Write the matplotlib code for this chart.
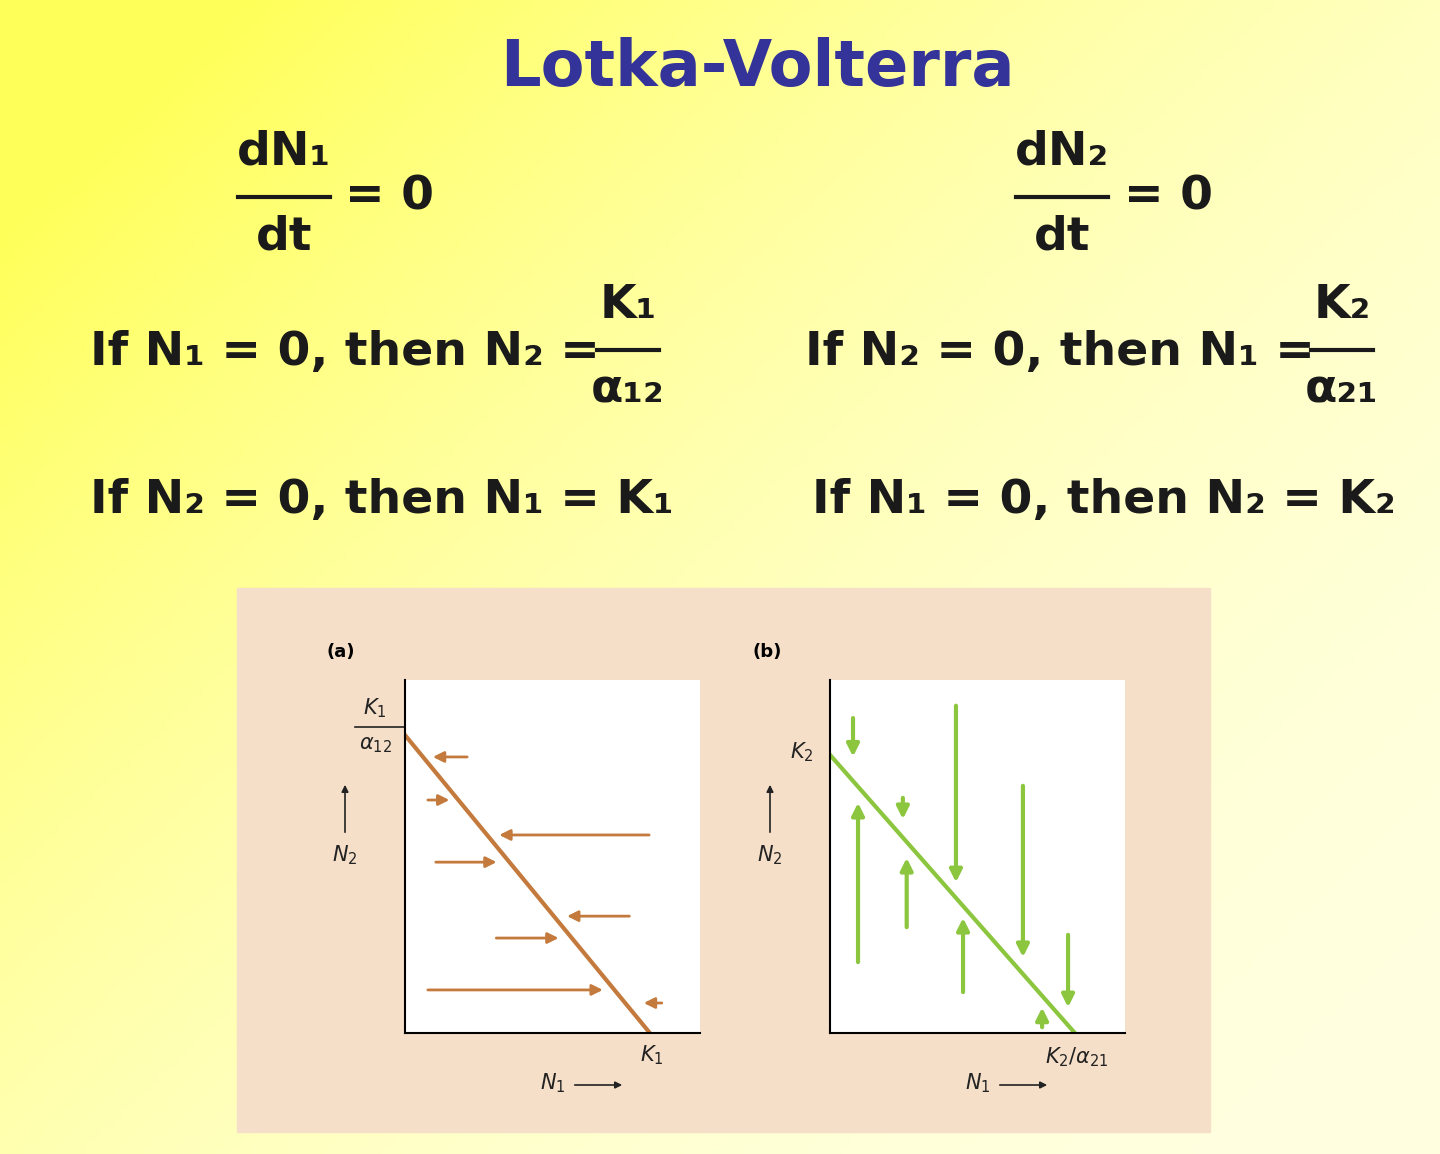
import numpy as np
import matplotlib
matplotlib.use("Agg")
import matplotlib.pyplot as plt
from matplotlib.lines import Line2D

# panel (a): isocline of species 1, horizontal arrows (y, x_start, x_end)
iso_a = [(0.0, 0.844), (0.83, 0.0)]
arrows_a_y = [0.782, 0.66, 0.561, 0.484, 0.331, 0.269, 0.122, 0.085]
arrows_a_x0 = [0.22, 0.068, 0.837, 0.095, 0.77, 0.30, 0.068, 0.88]
arrows_a_x1 = [0.085, 0.16, 0.31, 0.32, 0.54, 0.53, 0.68, 0.80]

# panel (b): isocline of species 2, vertical arrows (x, y_start, y_end)
iso_b = [(0.0, 0.788), (0.83, 0.0)]
arrows_b_x = [0.078, 0.095, 0.247, 0.26, 0.427, 0.451, 0.654, 0.807, 0.719]
arrows_b_y0 = [0.90, 0.193, 0.674, 0.292, 0.935, 0.108, 0.708, 0.286, 0.0085]
arrows_b_y1 = [0.775, 0.66, 0.598, 0.504, 0.419, 0.334, 0.207, 0.065, 0.08]

W, H = 1440, 1154
fig = plt.figure(figsize=(14.4, 11.54), dpi=100)

# gradient background
bg = fig.add_axes([0, 0, 1, 1])
xx, yy = np.meshgrid(np.linspace(0, 1, 200), np.linspace(0, 1, 200))
t = np.clip((1 - xx) * 0.6 + (1 - yy) * 0.5, 0, 1) ** 2
c0 = np.array([1.0, 1.0, 0.88])
c1 = np.array([1.0, 1.0, 0.35])
img = c0 + (c1 - c0) * t[..., None]
bg.imshow(img, extent=[0, W, H, 0], aspect="auto")
bg.set_xlim(0, W)
bg.set_ylim(H, 0)
bg.axis("off")

txt = dict(fontweight="bold", color="#1a1a1a", fontsize=34, family="DejaVu Sans")

def T(x, y, s, ha="left", **kw):
    d = dict(txt)
    d.update(kw)
    bg.text(x, y, s, ha=ha, va="center", **d)

def frac(x, y, num, den, w):
    T(x, y - 45, num, ha="center")
    T(x, y + 40, den, ha="center")
    bg.add_line(Line2D([x - w / 2, x + w / 2], [y, y], color="#1a1a1a", lw=3))

bg.text(757, 68, "Lotka-Volterra", ha="center", va="center", fontsize=46,
        fontweight="bold", color="#333399")

frac(284, 197, "dN₁", "dt", 92)
T(345, 197, "= 0")
frac(1062, 197, "dN₂", "dt", 92)
T(1124, 197, "= 0")

T(90, 352, "If N₁ = 0, then N₂ =")
frac(628, 350, "K₁", "α₁₂", 62)
T(805, 352, "If N₂ = 0, then N₁ =")
frac(1342, 350, "K₂", "α₂₁", 62)

T(90, 500, "If N₂ = 0, then N₁ = K₁")
T(812, 500, "If N₁ = 0, then N₂ = K₂")

# pink figure panel
bg.add_patch(plt.Rectangle((237, 588), 973, 544, color="#f5dfc8", zorder=1))

orange = "#c47a3c"
green = "#8cc63f"


def panel(left, iso, color, label):
    ax = fig.add_axes([left / W, 1 - 1033 / H, 295 / W, 353 / H])
    ax.set_xlim(0, 1)
    ax.set_ylim(0, 1)
    for s in ["top", "right"]:
        ax.spines[s].set_visible(False)
    for s in ["left", "bottom"]:
        ax.spines[s].set_linewidth(1.5)
    ax.set_xticks([])
    ax.set_yticks([])
    xs, ys = zip(*iso)
    ax.plot(xs, ys, color=color, lw=3)
    bg.text(left - 78, 652, label, fontsize=13, fontweight="bold", va="center", zorder=3)
    return ax


ax_a = panel(405, iso_a, orange, "(a)")
for y, x0, x1 in zip(arrows_a_y, arrows_a_x0, arrows_a_x1):
    ax_a.annotate("", xy=(x1, y), xytext=(x0, y),
                  arrowprops=dict(arrowstyle="-|>", color=orange, lw=2, mutation_scale=16))

ax_b = panel(830, iso_b, green, "(b)")
for x, y0, y1 in zip(arrows_b_x, arrows_b_y0, arrows_b_y1):
    ax_b.annotate("", xy=(x, y1), xytext=(x, y0),
                  arrowprops=dict(arrowstyle="-|>", color=green, lw=3, mutation_scale=18))

# axis labels panel (a)
small = dict(fontsize=15, color="#222222", va="center", ha="center", zorder=3)
bg.text(375, 708, "$K_1$", **small)
bg.text(375, 745, r"$\alpha_{12}$", **small)
bg.add_line(Line2D([355, 425], [727, 727], color="#222222", lw=1.2, zorder=3))
bg.text(424, 708, "A", **small)
bg.text(684, 1016, "B", **small)
bg.text(652, 1055, "$K_1$", **small)
bg.text(345, 855, "$N_2$", **small)
bg.annotate("", xy=(345, 782), xytext=(345, 835),
            arrowprops=dict(arrowstyle="-|>", color="#222222", lw=1.2), zorder=3)
bg.text(553, 1083, "$N_1$", **small)
bg.annotate("", xy=(625, 1085), xytext=(572, 1085),
            arrowprops=dict(arrowstyle="-|>", color="#222222", lw=1.2), zorder=3)

# axis labels panel (b)
bg.text(802, 752, "$K_2$", **small)
bg.text(770, 855, "$N_2$", **small)
bg.annotate("", xy=(770, 782), xytext=(770, 835),
            arrowprops=dict(arrowstyle="-|>", color="#222222", lw=1.2), zorder=3)
bg.text(1077, 1057, r"$K_2/\alpha_{21}$", **small)
bg.text(978, 1083, "$N_1$", **small)
bg.annotate("", xy=(1050, 1085), xytext=(997, 1085),
            arrowprops=dict(arrowstyle="-|>", color="#222222", lw=1.2), zorder=3)

fig.savefig("out.png", dpi=100)
